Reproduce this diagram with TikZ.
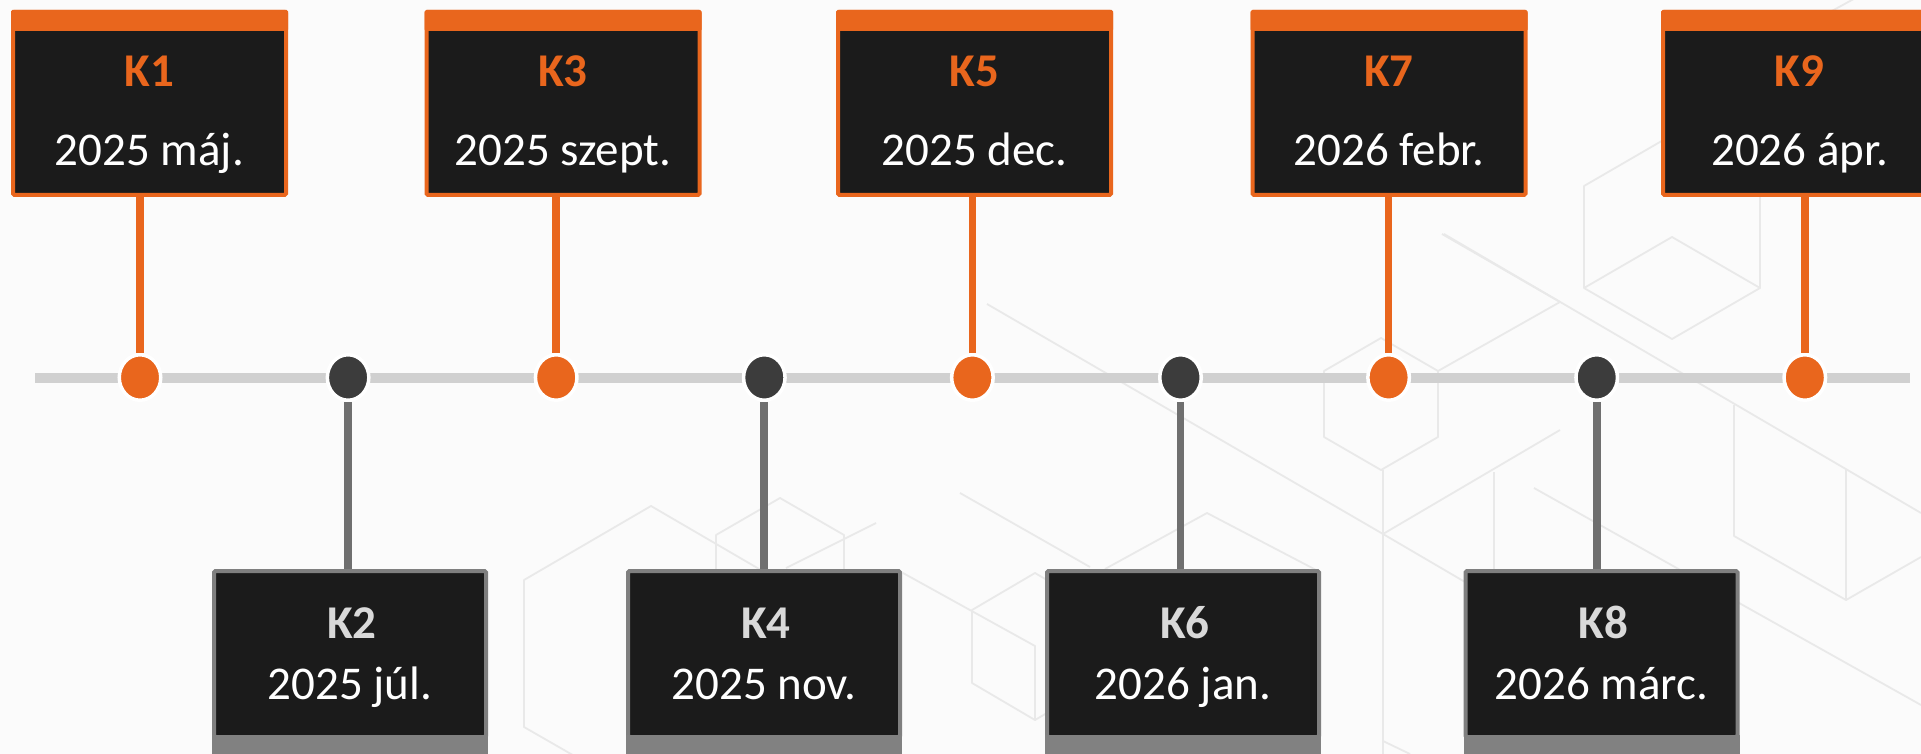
\documentclass[tikz,border=0pt]{standalone}
\usepackage{fontspec}
\setmainfont{Carlito}
\usetikzlibrary{shapes.geometric}
\definecolor{orng}{HTML}{E9661D}
\definecolor{boxblack}{HTML}{1B1B1B}
\definecolor{ktitle}{HTML}{D9D9D9}
\definecolor{gborder}{HTML}{7F7F7F}
\definecolor{gband}{HTML}{818181}
\definecolor{darkdot}{HTML}{3C3C3C}
\definecolor{gstem}{HTML}{6F6F6F}
\definecolor{tline}{HTML}{D0D0D0}
\definecolor{bgc}{HTML}{FBFBFB}
\definecolor{hexc}{HTML}{E9E9E9}
\tikzset{
  hexl/.style={draw=hexc, line width=1.8pt, line join=round},
  upbox/.style={rectangle, draw=orng, fill=boxblack, line width=4pt, minimum width=273pt, minimum height=183pt, inner sep=0pt, rounded corners=1.5pt},
  lowbox/.style={rectangle, draw=gborder, fill=boxblack, line width=4pt, minimum width=272pt, minimum height=166pt, inner sep=0pt, rounded corners=1.5pt},
  dotbase/.style={ellipse, minimum width=41.5pt, minimum height=45.5pt, inner sep=0pt, draw=white, line width=3.5pt},
  odot/.style={dotbase, fill=orng},
  ddot/.style={dotbase, fill=darkdot},
  txt/.style={anchor=base, inner sep=0pt, font=\fontsize{47pt}{56pt}\selectfont},
  ktop/.style={txt, text=orng, font=\fontsize{47pt}{56pt}\selectfont\bfseries},
  kbot/.style={txt, text=ktitle, font=\fontsize{47pt}{56pt}\selectfont\bfseries},
  datetxt/.style={txt, text=white},
  ostem/.style={draw=orng, line width=7.7pt},
  gstemline/.style={draw=gstem, line width=7.7pt},
  tl/.style={draw=tline, line width=10pt}
}
\begin{document}
\begin{tikzpicture}[x=1pt,y=-1pt]
\clip (0,0) rectangle (1921,754);
\fill[bgc] (0,0) rectangle (1921,754);
% background hexagon pattern
\draw[hexl] (1672,135)--(1760,186)--(1760,288)--(1672,339)--(1584,288)--(1584,186)--cycle;
\draw[hexl] (1584,288)--(1672,237)--(1760,288);
\draw[hexl] (1381,338)--(1438,371)--(1438,437)--(1381,470)--(1324,437)--(1324,371)--cycle;
\draw[hexl] (651,506)--(778,580)--(778,727)--(651,800)--(524,727)--(524,580)--cycle;
\draw[hexl] (780,498)--(844,535)--(844,609)--(780,646)--(716,609)--(716,535)--cycle;
\draw[hexl] (1035,573)--(1098,610)--(1098,683)--(1035,720)--(972,683)--(972,610)--cycle;
\draw[hexl] (903,573)--(1035,646)--(1035,720);
\draw[hexl] (987,304)--(1383,534)--(1465,582);
\draw[hexl] (1383,470)--(1383,754);
\draw[hexl] (1383,534)--(1560,430);
\draw[hexl] (960,493)--(1090,567);
\draw[hexl] (1105,569)--(1207,513)--(1318,571);
\draw[hexl] (1438,371)--(1560,302)--(1442,234);
\draw[hexl] (1444,234)--(1921,513);
\draw[hexl] (1494,472)--(1494,571);
\draw[hexl] (1534,488)--(1921,705);
\draw[hexl] (1734,405)--(1734,536)--(1846,600)--(1921,557);
\draw[hexl] (1846,469)--(1846,600);
\draw[hexl] (876,523)--(786,568);
\draw[hexl] (1383,741)--(1410,754);
\draw[hexl] (1830,12)--(1870,-10);
% timeline
\coordinate (tlA) at (35,377.5);
\coordinate (tlB) at (1910,377.5);
\draw[tl] (tlA) -- (tlB);
% upper boxes
\foreach \n/\x/\k/\d in {b1/149.5/K1/2025 máj., b3/563/K3/2025 szept., b5/974.5/K5/2025 dec., b7/1389/K7/2026 febr., b9/1799.5/K9/2026 ápr.}{
  \node[upbox] (\n) at (\x,103.5) {};
  \fill[orng, rounded corners=1.5pt] (\n.north west) rectangle ([yshift=-21pt]\n.north east);
  \node[ktop] (\n k) at (\x,87) {\k};
  \node[datetxt] (\n d) at (\x,166) {\d};
}
% lower boxes
\foreach \n/\x/\k/\d in {b2/350/K2/2025 júl., b4/764/K4/2025 nov., b6/1183/K6/2026 jan., b8/1601.5/K8/2026 márc.}{
  \node[lowbox] (\n) at (\x,654) {};
  \fill[gband] ([yshift=4pt]\n.south west) rectangle ([yshift=-40pt]\n.south east);
  \node[kbot] (\n k) at (\x+2,638) {\k};
  \node[datetxt] (\n d) at (\x,699) {\d};
}
% dots
\node[odot] (d1) at (140,377.5) {};
\node[ddot] (d2) at (348.1,377.5) {};
\node[odot] (d3) at (556.2,377.5) {};
\node[ddot] (d4) at (764.3,377.5) {};
\node[odot] (d5) at (972.4,377.5) {};
\node[ddot] (d6) at (1180.5,377.5) {};
\node[odot] (d7) at (1388.6,377.5) {};
\node[ddot] (d8) at (1596.7,377.5) {};
\node[odot] (d9) at (1804.8,377.5) {};
% stems
\foreach \i in {1,3,5,7,9}{
  \draw[ostem] (d\i |- b\i.south) -- (d\i.north);
}
\foreach \i in {2,4,6,8}{
  \draw[gstemline] (d\i.south) -- (d\i |- b\i.north);
}
\end{tikzpicture}
\end{document}
